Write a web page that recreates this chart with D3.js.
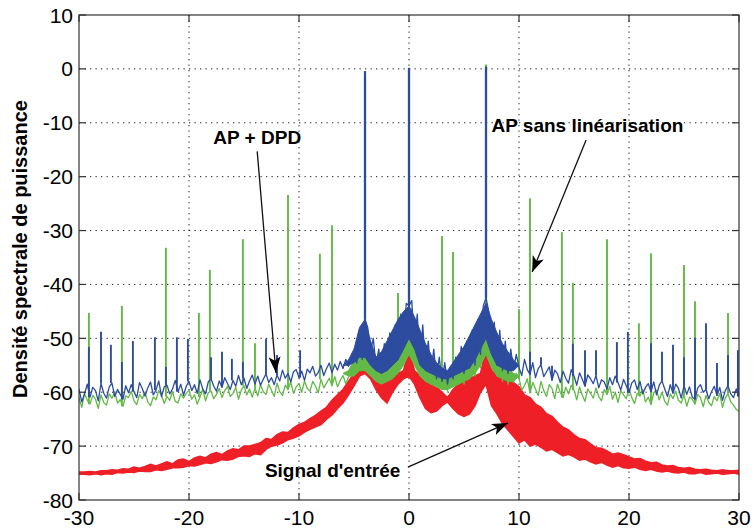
<!DOCTYPE html>
<html>
<head>
<meta charset="utf-8">
<script src="https://cdn.jsdelivr.net/npm/d3@7"></script>
<style>
body { margin: 0; background: #fff; }
text { font-family: "Liberation Sans", Arial, sans-serif; fill: #000; }
</style>
</head>
<body>
<div id="main"></div>
<script>
const ctx = {
    w: 754,
    h: 530,
    left: 79,
    right: 739,
    top: 15,
    bottom: 500
};

// axes
const xTicks = [-30, -20, -10, 0, 10, 20, 30];
const yTicks = [10, 0, -10, -20, -30, -40, -50, -60, -70, -80];
const yLabel = "Densité spectrale de puissance";

// amplifier traces, sampled every 0.25 from -30 to 30
const X0 = -30, STEP = 0.25;
const bluePSD = [
    -59.4, -61.8, -60.3, -58.5,  -60.9, -59.1, -59.7, -61.6,  -58.4, -60.2, -61.1, -59.0,
    -58.3, -60.8, -59.5, -60.4,  -61.3, -58.8, -60.1, -58.6,  -59.9, -61.0, -58.2, -59.3,
    -60.7, -59.2, -58.1, -60.5,  -59.6, -57.9, -60.8, -59.0,  -58.7, -60.3, -59.4, -57.8,
    -59.9, -58.5, -60.6, -58.9,  -58.0, -59.7, -58.6, -60.2,  -57.7, -59.4, -60.3, -58.1,
    -57.5, -58.9, -59.8, -57.9,  -59.1, -57.3, -58.4, -59.5,  -57.8, -58.9, -56.9, -58.6,
    -57.4, -59.3, -57.9, -56.8,  -58.5, -57.0, -58.7, -57.6,  -56.6, -58.2, -57.3, -58.6,
    -56.8, -57.9, -55.9, -57.4,  -56.5, -58.1, -56.2, -55.8,  -57.3, -56.1, -57.8, -55.7,
    -56.4, -55.2, -57.0, -56.3,  -55.0, -56.9, -55.6, -54.6,  -56.4, -54.8, -55.9, -54.3,
    -55.6, -53.9, -55.2, -54.0,  -52.8, -54.6, -50.8, -53.9,  -46.5, -48.0, -52.5, -50.0,
    -55.0, -52.0, -56.5, -51.0,  -55.5, -49.0, -54.0, -47.5,  -53.0, -45.5, -51.0, -43.5,
    -44.0, -43.0, -51.5, -45.5,  -54.5, -47.5, -55.5, -50.5,  -56.5, -52.0, -57.5, -53.5,
    -58.0, -54.5, -58.5, -55.5,  -57.5, -53.5, -56.5, -51.5,  -56.5, -50.5, -55.5, -48.5,
    -55.0, -46.5, -53.0, -44.0,  -42.5, -45.0, -52.0, -47.0,  -55.0, -48.5, -56.0, -50.5,
    -56.5, -52.0, -55.8, -53.0,  -55.4, -56.9, -53.9, -55.8,  -56.7, -54.5, -57.3, -55.6,
    -54.9, -57.1, -56.2, -55.3,  -57.8, -55.9, -56.6, -58.2,  -56.1, -57.4, -58.3, -55.8,
    -57.0, -58.7, -56.4, -57.6,  -58.9, -56.8, -57.5, -58.4,  -56.9, -59.2, -57.7, -58.1,
    -59.4, -57.3, -58.6, -57.0,  -58.2, -59.6, -57.6, -58.8,  -60.1, -58.3, -57.7, -59.5,
    -58.0, -60.3, -59.1, -58.4,  -59.9, -58.1, -60.5, -58.7,  -57.9, -59.4, -60.8, -58.6,
    -60.2, -58.5, -59.3, -61.1,  -58.8, -60.4, -59.0, -60.9,  -61.3, -59.2, -58.6, -60.0,
    -59.5, -61.2, -59.9, -58.9,  -60.6, -59.1, -61.5, -59.7,  -58.8, -60.3, -61.0, -59.4,
    -60.8
];
const greenPSD = [
    -61.0, -62.8, -60.2, -61.5,  -62.2, -60.6, -61.3, -63.0,  -60.5, -61.9, -62.4, -60.3,
    -61.1, -59.9, -62.0, -61.4,  -62.6, -60.7, -61.0, -59.8,  -61.6, -62.3, -60.4, -61.2,
    -60.0, -61.8, -62.5, -60.9,  -61.4, -59.7, -60.6, -62.1,  -60.8, -61.5, -59.9, -61.7,
    -62.0, -60.3, -61.1, -60.2,  -59.6, -61.3, -60.5, -62.2,  -60.9, -59.4, -61.6, -60.1,
    -59.8, -61.2, -60.4, -59.3,  -61.0, -59.7, -58.9, -60.8,  -60.2, -59.1, -61.3, -59.6,
    -58.8, -60.5, -59.4, -60.9,  -59.2, -60.7, -58.6, -59.9,  -60.4, -58.5, -59.7, -60.8,
    -58.3, -59.9, -60.6, -58.7,  -59.5, -58.1, -60.2, -59.0,  -58.4, -60.0, -57.9, -59.3,
    -59.8, -58.0, -58.9, -60.1,  -57.6, -59.2, -58.3, -57.4,  -58.8, -57.1, -59.0, -57.8,
    -56.9, -58.4, -57.2, -56.5,  -55.6, -53.0, -55.5, -48.5,  -48.5, -50.0, -55.5, -52.5,
    -57.0, -54.0, -58.0, -52.5,  -57.5, -50.0, -56.5, -48.0,  -55.5, -46.0, -54.5, -44.5,
    -45.5, -44.5, -55.0, -47.0,  -56.5, -49.5, -57.5, -52.5,  -58.5, -54.5, -59.0, -56.0,
    -59.5, -56.5, -59.8, -57.0,  -59.0, -55.5, -58.5, -53.5,  -58.5, -52.0, -57.5, -50.0,
    -57.0, -48.0, -55.5, -45.0,  -44.5, -46.5, -55.0, -49.0,  -57.0, -51.0, -58.0, -53.5,
    -58.5, -55.5, -58.2, -56.5,  -57.4, -59.6, -58.8, -57.5,  -60.1, -58.2, -59.4, -60.6,
    -58.0, -59.7, -60.8, -58.6,  -59.3, -61.2, -58.5, -60.0,  -61.0, -59.1, -60.3, -58.7,
    -59.6, -61.4, -59.0, -60.5,  -61.7, -59.4, -60.2, -61.1,  -59.2, -60.8, -61.6, -59.5,
    -60.4, -58.9, -61.3, -60.0,  -61.9, -59.7, -60.5, -61.2,  -59.3, -61.0, -62.1, -60.2,
    -60.7, -59.5, -61.8, -60.9,  -62.3, -60.1, -59.6, -61.4,  -60.0, -61.7, -62.4, -60.3,
    -61.2, -59.8, -61.5, -62.0,  -60.5, -62.6, -60.9, -61.3,  -62.2, -60.4, -61.0, -62.7,
    -60.6, -61.9, -62.5, -60.8,  -61.6, -60.2, -62.8, -61.1,  -60.3, -61.8, -62.4, -63.2,
    -63.5
];

// spread of the traces around the carriers, every 0.5 from -6 to 10
const HUMP_X0 = -6, HUMP_STEP = 0.5;
const blueHumpHi = [
    -55.0, -54.0, -52.0, -48.0, -46.5, -50.5, -53.5, -52.5, -50.5, -48.5, -46.5,
    -45.0, -44.0, -46.0, -48.5, -51.0, -53.0, -54.5, -55.5, -56.0, -54.5, -53.0,
    -51.5, -49.5, -47.5, -45.5, -43.5, -46.5, -49.0, -51.0, -52.5, -54.0, -55.0
];
const blueHumpLo = [
    -55.0, -55.0, -54.5, -53.5, -53.5, -55.0, -56.0, -56.5, -56.0, -55.0, -54.0,
    -52.0, -50.0, -52.0, -55.0, -56.0, -56.5, -57.0, -57.5, -57.5, -57.0, -56.5,
    -56.0, -55.5, -54.0, -52.0, -50.0, -53.0, -55.0, -55.5, -56.0, -56.0, -55.0
];
const greenHumpHi = [
    -56.5, -56.0, -54.0, -50.0, -49.0, -53.0, -55.0, -55.5, -54.0, -52.0, -50.0,
    -48.0, -46.0, -49.0, -53.0, -55.0, -56.0, -56.5, -57.0, -57.0, -56.0, -55.0,
    -54.0, -52.0, -50.0, -48.0, -46.0, -50.0, -53.0, -54.5, -55.5, -56.5, -57.0
];
const greenHumpLo = [
    -56.5, -57.0, -57.0, -56.0, -56.0, -57.0, -58.0, -58.5, -58.0, -57.5, -56.5,
    -55.0, -53.0, -55.0, -57.0, -58.0, -58.5, -59.0, -59.5, -59.5, -59.0, -58.5,
    -58.0, -57.5, -56.5, -55.0, -53.0, -55.5, -57.0, -57.5, -58.0, -58.0, -57.0
];

// intermodulation spikes [frequency, level]
const blueSpikes = [
    [-29.1, -51.6], [-28.0, -48.8], [-27.1, -51.2], [-26.1, -54.4], [-25.1, -50.5],
    [-23.1, -49.8], [-22.1, -55.3], [-21.1, -49.8], [-20.1, -50.1], [-18.0, -53.5],
    [-17.0, -52.5], [-16.1, -53.8], [-15.1, -54.4], [-13.0, -50.1], [-12.0, -53.1],
    [-9.9, -52.2], [11.0, -52.5], [12.0, -53.5], [13.0, -55.1], [14.9, -51.0],
    [16.0, -52.2], [17.0, -52.2], [18.9, -50.7], [19.9, -48.8], [22.0, -50.9],
    [23.0, -52.5], [24.0, -51.2], [25.0, -53.5], [26.0, -49.9], [27.0, -47.2],
    [28.0, -54.6], [29.0, -53.1], [29.9, -52.2]
];
const greenSpikes = [
    [-29.1, -45.3], [-26.1, -44.0], [-22.1, -33.2], [-19.1, -45.3], [-18.1, -37.3],
    [-15.1, -31.6], [-14.0, -50.9], [-11.0, -23.4], [-8.1, -34.3], [-7.0, -29.0],
    [-1.0, -41.6], [3.0, -31.0], [4.0, -34.0], [10.0, -44.6], [11.0, -24.0],
    [13.9, -30.3], [14.9, -39.7], [18.0, -31.6], [20.9, -47.2], [22.0, -34.2],
    [25.0, -36.4], [26.0, -43.1], [29.0, -45.3]
];

// the three carriers
const carriers = [-4, 0, 7];
const bluePeaks = [-0.4, 0.2, 0.4];
const greenPeaks = [-1.5, 0.0, 0.8];

// input signal band (upper and lower edge), sampled every 0.5 from -30 to 30
const RED_STEP = 0.5;
const redHi = [
    -74.8, -74.8, -74.7, -74.8, -74.6, -74.6, -74.4, -74.5, -74.2, -74.3,
    -73.9, -74.1, -73.8, -73.4, -73.7, -73.3, -72.9, -73.3, -72.6, -72.4,
    -72.9, -72.2, -71.9, -72.2, -71.5, -71.2, -71.6, -70.9, -70.5, -70.7,
    -70.0, -70.0, -69.7, -69.4, -68.6, -68.8, -67.9, -67.4, -67.5, -66.6,
    -66.0, -65.6, -64.9, -64.3, -63.5,
    -62.8, -61.5, -60.5, -59.5, -58.0, -56.5, -55.0,
    -52.0,
    -55.5, -56.5, -57.0, -57.5, -57.0, -56.5, -56.0, -52.0, -56.0, -57.0, -57.5,
    -58.0, -59.0, -60.0, -61.0, -59.5, -58.5, -58.0, -57.5, -57.0, -56.5, -52.0,
    -56.0, -56.5, -57.0, -57.5, -58.2, -59.0, -60.5, -61.0, -62.2, -62.8,
    -64.0, -64.5, -65.6, -66.5, -67.0, -67.9, -68.6, -68.8, -69.6, -70.3,
    -70.4, -70.9, -71.5, -71.3, -71.6, -72.0, -72.4, -72.3, -72.8, -73.1,
    -73.0, -73.5, -73.7, -73.6, -74.0, -74.1, -74.0, -74.3, -74.4, -74.3,
    -74.5, -74.6, -74.4, -74.6, -74.6, -74.5
];
const redLo = [
    -75.2, -75.2, -75.3, -75.1, -75.3, -75.1, -75.2, -74.9, -75.0, -74.8,
    -74.9, -74.6, -74.7, -74.7, -74.4, -74.5, -74.3, -74.0, -74.0, -73.9,
    -73.6, -73.7, -73.4, -73.1, -73.2, -72.9, -72.5, -72.6, -72.4, -71.9,
    -71.8, -71.9, -71.4, -71.6, -70.6, -70.0, -69.8, -69.4, -68.8, -68.5,
    -68.1, -67.4, -66.9, -66.4, -66.0,
    -65.0, -64.2, -63.0, -62.0, -60.5, -58.8, -57.0,
    -56.5,
    -57.5, -59.5, -61.0, -62.0, -60.0, -58.5, -57.5, -57.0, -58.5, -61.0, -63.0,
    -63.8, -63.5, -62.5, -61.8, -63.0, -64.0, -64.5, -64.0, -62.5, -60.0, -58.5,
    -62.5, -64.0, -65.8, -67.0, -68.2, -69.4, -68.8, -70.0, -69.6, -70.2,
    -70.9, -70.6, -71.2, -71.8, -71.5, -72.0, -72.6, -72.4, -72.9, -73.3,
    -73.0, -73.5, -73.9, -73.6, -74.0, -74.1, -73.9, -74.3, -74.5, -74.3,
    -74.6, -74.8, -74.6, -74.9, -75.0, -74.8, -75.1, -75.1, -74.9, -75.2,
    -75.1, -75.0, -75.2, -75.1, -75.0, -75.2
];

// annotations: text, anchor point, arrow from -> to (data units)
const notes = [
    { text: "AP + DPD", x: -13.8, y: -13.9, from: [-13.8, -15.3], to: [-12.1, -56.4] },
    { text: "AP sans linéarisation", x: 7.5, y: -11.7, from: [16.1, -13.2], to: [11.2, -37.7], anchor: "start" },
    { text: "Signal d'entrée", x: -13.1, y: -75.7, from: [-0.1, -73.9], to: [9.0, -65.7], anchor: "start" }
];

const COL = { blue: "#2d4c9f", green: "#63b946", red: "#ee1f26" };

function createViz() {
    let svg = d3.select("#main").append("svg")
        .attr("width", ctx.w)
        .attr("height", ctx.h);

    let x = d3.scaleLinear().domain([-30, 30]).range([ctx.left, ctx.right]);
    let y = d3.scaleLinear().domain([-80, 10]).range([ctx.bottom, ctx.top]);

    let plotG = svg.append("g");
    plotG.append("clipPath").attr("id", "clip")
        .append("rect")
        .attr("x", ctx.left).attr("y", ctx.top)
        .attr("width", ctx.right - ctx.left).attr("height", ctx.bottom - ctx.top);

    // dotted grid
    let grid = plotG.append("g").attr("stroke", "#222").attr("stroke-width", 1)
        .attr("stroke-dasharray", "1.3,4.2");
    xTicks.slice(1, -1).forEach((t) => {
        grid.append("line")
            .attr("x1", x(t)).attr("x2", x(t))
            .attr("y1", ctx.top).attr("y2", ctx.bottom);
    });
    yTicks.slice(1, -1).forEach((t) => {
        grid.append("line")
            .attr("x1", ctx.left).attr("x2", ctx.right)
            .attr("y1", y(t)).attr("y2", y(t));
    });

    let dataG = plotG.append("g").attr("clip-path", "url(#clip)");

    // input signal (red band)
    let redData = redHi.map((h, i) => ({ f: -30 + i * RED_STEP, hi: h, lo: redLo[i] }));
    dataG.append("path")
        .datum(redData)
        .attr("fill", COL.red)
        .attr("stroke", COL.red)
        .attr("stroke-width", 1.6)
        .attr("d", d3.area().x((d) => x(d.f)).y0((d) => y(d.lo)).y1((d) => y(d.hi)));

    // one amplifier trace: spread around carriers + noisy floor + spikes + carriers
    function drawTrace(values, humpHi, humpLo, spikes, peaks, colour) {
        let g = dataG.append("g").attr("stroke", colour).attr("fill", "none");
        let hump = humpHi.map((h, i) => ({ f: HUMP_X0 + i * HUMP_STEP, hi: h, lo: humpLo[i] }));
        g.append("path")
            .datum(hump)
            .attr("fill", colour)
            .attr("stroke-width", 1)
            .attr("d", d3.area().x((d) => x(d.f)).y0((d) => y(d.lo)).y1((d) => y(d.hi)));
        let pts = values.map((v, i) => [X0 + i * STEP, v]);
        g.append("path")
            .datum(pts)
            .attr("stroke-width", 1.3)
            .attr("stroke-linejoin", "round")
            .attr("d", d3.line().x((d) => x(d[0])).y((d) => y(d[1])));
        spikes.forEach((s) => {
            let base = values[Math.round((s[0] - X0) / STEP)];
            g.append("line")
                .attr("x1", x(s[0])).attr("x2", x(s[0]))
                .attr("y1", y(s[1])).attr("y2", y(base))
                .attr("stroke-width", 1.9);
        });
        carriers.forEach((c, i) => {
            let base = values[Math.round((c - X0) / STEP)];
            g.append("line")
                .attr("x1", x(c)).attr("x2", x(c))
                .attr("y1", y(peaks[i])).attr("y2", y(base))
                .attr("stroke-width", 2.2);
        });
    }
    drawTrace(greenPSD, greenHumpHi, greenHumpLo, greenSpikes, greenPeaks, COL.green);
    drawTrace(bluePSD, blueHumpHi, blueHumpLo, blueSpikes, bluePeaks, COL.blue);

    // box + inner ticks
    let axG = svg.append("g").attr("stroke", "#333").attr("stroke-width", 1.2).attr("fill", "none");
    axG.append("rect")
        .attr("x", ctx.left).attr("y", ctx.top)
        .attr("width", ctx.right - ctx.left).attr("height", ctx.bottom - ctx.top);
    xTicks.forEach((t) => {
        axG.append("line").attr("x1", x(t)).attr("x2", x(t)).attr("y1", ctx.bottom).attr("y2", ctx.bottom - 7);
        axG.append("line").attr("x1", x(t)).attr("x2", x(t)).attr("y1", ctx.top).attr("y2", ctx.top + 7);
    });
    yTicks.forEach((t) => {
        axG.append("line").attr("x1", ctx.left).attr("x2", ctx.left + 7).attr("y1", y(t)).attr("y2", y(t));
        axG.append("line").attr("x1", ctx.right).attr("x2", ctx.right - 7).attr("y1", y(t)).attr("y2", y(t));
    });

    // tick labels
    svg.append("g").selectAll("text")
        .data(xTicks).enter().append("text")
        .attr("x", (d) => x(d))
        .attr("y", 525)
        .attr("text-anchor", "middle")
        .attr("font-size", 21)
        .text((d) => d);
    svg.append("g").selectAll("text")
        .data(yTicks).enter().append("text")
        .attr("x", ctx.left - 6)
        .attr("y", (d) => y(d))
        .attr("dy", "0.36em")
        .attr("text-anchor", "end")
        .attr("font-size", 21)
        .text((d) => d);
    svg.append("text")
        .attr("transform", "translate(27,249) rotate(-90)")
        .attr("text-anchor", "middle")
        .attr("font-size", 20)
        .attr("font-weight", "bold")
        .text(yLabel);

    // annotations with arrows
    let defs = svg.append("defs");
    defs.append("marker")
        .attr("id", "head")
        .attr("viewBox", "0 0 16 12")
        .attr("refX", 16).attr("refY", 6)
        .attr("markerWidth", 16).attr("markerHeight", 12)
        .attr("markerUnits", "userSpaceOnUse")
        .attr("orient", "auto")
        .append("path")
        .attr("d", "M0,0 L16,6 L0,12 L4,6 Z")
        .attr("fill", "#000");
    notes.forEach((n) => {
        svg.append("line")
            .attr("x1", x(n.from[0])).attr("y1", y(n.from[1]))
            .attr("x2", x(n.to[0])).attr("y2", y(n.to[1]))
            .attr("stroke", "#111").attr("stroke-width", 1.3)
            .attr("marker-end", "url(#head)");
        svg.append("text")
            .attr("x", x(n.x)).attr("y", y(n.y))
            .attr("text-anchor", n.anchor || "middle")
            .attr("font-size", 19)
            .attr("font-weight", "bold")
            .text(n.text);
    });
}

createViz();
</script>
</body>
</html>
